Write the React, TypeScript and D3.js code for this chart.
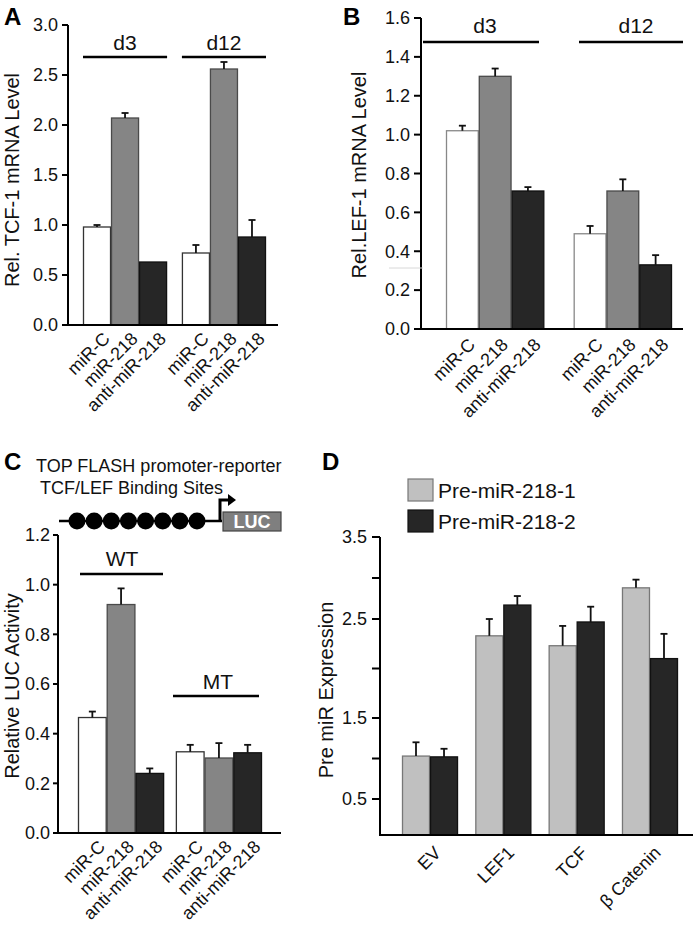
import React, { useEffect, useRef } from 'react';
import * as d3 from 'd3';

const FONT = '"Liberation Sans", Arial, Helvetica, sans-serif';

// Panel A – TCF-1 mRNA
const treatments = ['miR-C', 'miR-218', 'anti-miR-218'];
const daysA = ['d3', 'd12'];
const tcfMean = [[0.98, 2.07, 0.63], [0.72, 2.56, 0.88]];
const tcfErr = [[0.02, 0.05, 0], [0.08, 0.07, 0.17]];
const tcfTicks = [0, 0.5, 1.0, 1.5, 2.0, 2.5, 3.0];

// Panel B – LEF-1 mRNA
const daysB = ['d3', 'd12'];
const lefMean = [[1.02, 1.3, 0.71], [0.49, 0.71, 0.33]];
const lefErr = [[0.026, 0.04, 0.02], [0.04, 0.06, 0.05]];
const lefTicks = [0, 0.2, 0.4, 0.6, 0.8, 1.0, 1.2, 1.4, 1.6];

// Panel C – LUC activity
const constructs = ['WT', 'MT'];
const lucMean = [[0.465, 0.92, 0.24], [0.327, 0.302, 0.323]];
const lucErr = [[0.024, 0.065, 0.02], [0.028, 0.06, 0.032]];
const lucTicks = [0, 0.2, 0.4, 0.6, 0.8, 1.0, 1.2];
const bindingSites = [1, 2, 3, 4, 5, 6, 7, 8];

// Panel D – Pre miR expression
const genes = ['EV', 'LEF1', 'TCF', 'β Catenin'];
const preMirs = ['Pre-miR-218-1', 'Pre-miR-218-2'];
const preMean = [[1.03, 1.02], [2.33, 2.67], [2.23, 2.47], [2.88, 2.1]];
const preErr = [[0.17, 0.1], [0.17, 0.11], [0.2, 0.18], [0.1, 0.25]];
const preTicks = [0.5, 1.0, 1.5, 2.0, 2.5, 3.0, 3.5];
const preTickLabels = ['0.5', '', '1.5', '', '2.5', '', '3.5'];

const FILL3 = ['#ffffff', '#858585', '#262626'];
const STROKE3 = ['#333333', '#4a4a4a', '#111111'];
const FILL2 = ['#c0c0c0', '#262626'];
const STROKE2 = ['#777777', '#111111'];

type PanelOpts = {
  groups: string[];
  series: string[];
  means: number[][];
  errs: number[][];
  xRange: [number, number];
  padInner: number;
  y: any;
  baseY: number;
  fills: string[];
  strokes: string[];
};

function drawBars(g: any, o: PanelOpts) {
  const x0 = d3.scaleBand().domain(o.groups).range(o.xRange).paddingInner(o.padInner).paddingOuter(0);
  const x1 = d3.scaleBand().domain(o.series).range([0, x0.bandwidth()]).padding(0);
  o.groups.forEach((grp, gi) => {
    o.series.forEach((s, si) => {
      const v = o.means[gi][si];
      const e = o.errs[gi][si];
      const bx = (x0(grp) as number) + (x1(s) as number);
      const bw = x1.bandwidth();
      const cx = bx + bw / 2;
      g.append('rect')
        .attr('x', bx + 0.5)
        .attr('y', o.y(v))
        .attr('width', bw - 1)
        .attr('height', o.baseY - o.y(v))
        .attr('fill', o.fills[si])
        .attr('stroke', o.strokes[si])
        .attr('stroke-width', 1.3);
      if (e > 0) {
        g.append('line')
          .attr('x1', cx).attr('x2', cx)
          .attr('y1', o.y(v)).attr('y2', o.y(v + e))
          .attr('stroke', '#111').attr('stroke-width', 1.8);
        g.append('line')
          .attr('x1', cx - 3.5).attr('x2', cx + 3.5)
          .attr('y1', o.y(v + e)).attr('y2', o.y(v + e))
          .attr('stroke', '#111').attr('stroke-width', 1.8);
      }
    });
  });
  return { x0, x1 };
}

function drawYAxis(g: any, y: any, ticks: number[], labels: string[], axisX: number, top: number, bottom: number, tickLen: number, pad: number) {
  g.append('line')
    .attr('x1', axisX).attr('x2', axisX)
    .attr('y1', top).attr('y2', bottom)
    .attr('stroke', '#000').attr('stroke-width', 2);
  ticks.forEach((t, i) => {
    g.append('line')
      .attr('x1', axisX - tickLen).attr('x2', axisX)
      .attr('y1', y(t)).attr('y2', y(t))
      .attr('stroke', '#000').attr('stroke-width', 2);
    if (labels[i]) {
      g.append('text')
        .attr('x', axisX - tickLen - pad)
        .attr('y', y(t))
        .attr('dy', '0.35em')
        .attr('text-anchor', 'end')
        .attr('font-size', 18)
        .attr('fill', '#111')
        .text(labels[i]);
    }
  });
}

function xLabel(g: any, x: number, y: number, txt: string, size = 18) {
  g.append('text')
    .attr('transform', `translate(${x},${y}) rotate(-45)`)
    .attr('text-anchor', 'end')
    .attr('dy', '0.7em')
    .attr('font-size', size)
    .attr('fill', '#111')
    .text(txt);
}

function yTitle(g: any, x: number, y: number, txt: string) {
  g.append('text')
    .attr('transform', `translate(${x},${y}) rotate(-90)`)
    .attr('text-anchor', 'middle')
    .attr('font-size', 20)
    .attr('fill', '#111')
    .text(txt);
}

function groupBar(g: any, x1: number, x2: number, y: number, label: string, ly: number, lx?: number) {
  g.append('line').attr('x1', x1).attr('x2', x2).attr('y1', y).attr('y2', y)
    .attr('stroke', '#000').attr('stroke-width', 2.5);
  g.append('text')
    .attr('x', lx ?? (x1 + x2) / 2).attr('y', ly)
    .attr('text-anchor', 'middle').attr('font-size', 21).attr('fill', '#111')
    .text(label);
}

function panelLetter(g: any, x: number, y: number, l: string) {
  g.append('text').attr('x', x).attr('y', y).attr('font-size', 24)
    .attr('font-weight', 'bold').attr('fill', '#000').text(l);
}

export default function App() {
  const ref = useRef<SVGSVGElement | null>(null);

  useEffect(() => {
    const svg = d3.select(ref.current);
    svg.selectAll('*').remove();
    const root = svg.append('g').attr('font-family', FONT);

    // ---------- Panel A ----------
    {
      const g = root.append('g');
      const baseY = 325;
      const y = d3.scaleLinear().domain([0, 3]).range([baseY, 25]);
      const { x0, x1 } = drawBars(g, {
        groups: daysA, series: treatments, means: tcfMean, errs: tcfErr,
        xRange: [83, 266], padInner: 0.15, y, baseY, fills: FILL3, strokes: STROKE3,
      });
      drawYAxis(g, y, tcfTicks, tcfTicks.map((t) => d3.format('.1f')(t)), 68, 25, baseY, 6, 4);
      g.append('line').attr('x1', 67).attr('x2', 278).attr('y1', baseY).attr('y2', baseY)
        .attr('stroke', '#000').attr('stroke-width', 2);
      daysA.forEach((d) => {
        const gx = x0(d) as number;
        groupBar(g, gx, gx + x0.bandwidth(), 57, d, 50);
        treatments.forEach((t) => xLabel(g, gx + (x1(t) as number) + x1.bandwidth() / 2 + 5, baseY + 6, t));
      });
      yTitle(g, 19, 180, 'Rel. TCF-1 mRNA Level');
      panelLetter(g, 4, 25, 'A');
    }

    // ---------- Panel B ----------
    {
      const g = root.append('g');
      const baseY = 329;
      const y = d3.scaleLinear().domain([0, 1.6]).range([baseY, 18]);
      const { x0, x1 } = drawBars(g, {
        groups: daysB, series: treatments, means: lefMean, errs: lefErr,
        xRange: [446, 672], padInner: 0.23, y, baseY, fills: FILL3, strokes: ['#888888', '#4a4a4a', '#111111'],
      });
      drawYAxis(g, y, lefTicks, lefTicks.map((t) => d3.format('.1f')(t)), 421, 18, baseY, 7, 4);
      g.append('line').attr('x1', 420).attr('x2', 683).attr('y1', baseY).attr('y2', baseY)
        .attr('stroke', '#000').attr('stroke-width', 2);
      g.append('line').attr('x1', 389).attr('x2', 423).attr('y1', 268).attr('y2', 268)
        .attr('stroke', '#d8d8d8').attr('stroke-width', 1);
      groupBar(g, 423, 539, 42, 'd3', 33, 485);
      groupBar(g, 579, 683, 42, 'd12', 33, 636);
      daysB.forEach((d) => {
        const gx = x0(d) as number;
        treatments.forEach((t) => xLabel(g, gx + (x1(t) as number) + x1.bandwidth() / 2 + 5, baseY + 8, t));
      });
      yTitle(g, 366, 175, 'Rel.LEF-1 mRNA Level');
      panelLetter(g, 343, 25, 'B');
    }

    // ---------- Panel C ----------
    {
      const g = root.append('g');
      const baseY = 833;
      const y = d3.scaleLinear().domain([0, 1.2]).range([baseY, 535]);
      const { x0, x1 } = drawBars(g, {
        groups: constructs, series: treatments, means: lucMean, errs: lucErr,
        xRange: [78, 262], padInner: 0.12, y, baseY, fills: FILL3, strokes: STROKE3,
      });
      drawYAxis(g, y, lucTicks, lucTicks.map((t) => d3.format('.1f')(t)), 58, 535, baseY, 5, 3);
      g.append('line').attr('x1', 57).attr('x2', 281).attr('y1', baseY).attr('y2', baseY)
        .attr('stroke', '#000').attr('stroke-width', 2);
      groupBar(g, 80, 163, 574, 'WT', 566, 122);
      groupBar(g, 173, 259, 696, 'MT', 689, 218);
      constructs.forEach((c) => {
        const gx = x0(c) as number;
        treatments.forEach((t) => xLabel(g, gx + (x1(t) as number) + x1.bandwidth() / 2 + 5, baseY + 6, t));
      });
      yTitle(g, 19, 686, 'Relative LUC Activity');
      panelLetter(g, 4, 470, 'C');

      // promoter-reporter diagram
      g.append('text').attr('x', 36).attr('y', 472).attr('font-size', 18).attr('fill', '#111')
        .text('TOP FLASH promoter-reporter');
      g.append('text').attr('x', 40).attr('y', 494).attr('font-size', 18).attr('fill', '#111')
        .text('TCF/LEF Binding Sites');
      const lineY = 521;
      g.append('line').attr('x1', 59).attr('x2', 222).attr('y1', lineY).attr('y2', lineY)
        .attr('stroke', '#000').attr('stroke-width', 2.5);
      const sx = d3.scaleLinear().domain([1, 8]).range([77, 197]);
      bindingSites.forEach((b) => {
        g.append('circle').attr('cx', sx(b)).attr('cy', lineY).attr('r', 8.5).attr('fill', '#000');
      });
      g.append('path').attr('d', `M220,${lineY} V500 H229`).attr('fill', 'none')
        .attr('stroke', '#000').attr('stroke-width', 3);
      g.append('path').attr('d', 'M228,494 L236,500 L228,506 Z').attr('fill', '#000');
      g.append('rect').attr('x', 223).attr('y', 512).attr('width', 58).attr('height', 19)
        .attr('fill', '#7f7f7f').attr('stroke', '#444').attr('stroke-width', 1.2);
      g.append('text').attr('x', 252).attr('y', 528).attr('text-anchor', 'middle')
        .attr('font-size', 18).attr('font-weight', 'bold').attr('fill', '#fff').text('LUC');
    }

    // ---------- Panel D ----------
    {
      const g = root.append('g');
      const baseY = 835;
      const y = d3.scaleLinear().domain([0.5, 1.5, 2.5, 3.5]).range([799, 718, 619, 537]);
      const { x0 } = drawBars(g, {
        groups: genes, series: preMirs, means: preMean, errs: preErr,
        xRange: [402, 678], padInner: 0.236, y, baseY, fills: FILL2, strokes: STROKE2,
      });
      drawYAxis(g, y, preTicks, preTickLabels, 380, 537, baseY, 8, 5);
      g.append('line').attr('x1', 379).attr('x2', 693).attr('y1', baseY).attr('y2', baseY)
        .attr('stroke', '#000').attr('stroke-width', 2);
      genes.forEach((gn) => {
        const cx = (x0(gn) as number) + x0.bandwidth() / 2;
        xLabel(g, cx + 3, baseY + 10, gn, 18);
      });
      yTitle(g, 333, 690, 'Pre miR Expression');
      panelLetter(g, 322, 470, 'D');
      // legend
      preMirs.forEach((p, i) => {
        const ly = 479 + i * 31;
        g.append('rect').attr('x', 408).attr('y', ly).attr('width', 25).attr('height', 22)
          .attr('fill', FILL2[i]).attr('stroke', STROKE2[i]).attr('stroke-width', 1.2);
        g.append('text').attr('x', 438).attr('y', ly + 19).attr('font-size', 21).attr('fill', '#111').text(p);
      });
    }
  }, []);

  return (
    <svg
      ref={ref}
      width={693}
      height={928}
      style={{ position: 'absolute', left: 0, top: 0, background: '#fff', display: 'block' }}
    />
  );
}
